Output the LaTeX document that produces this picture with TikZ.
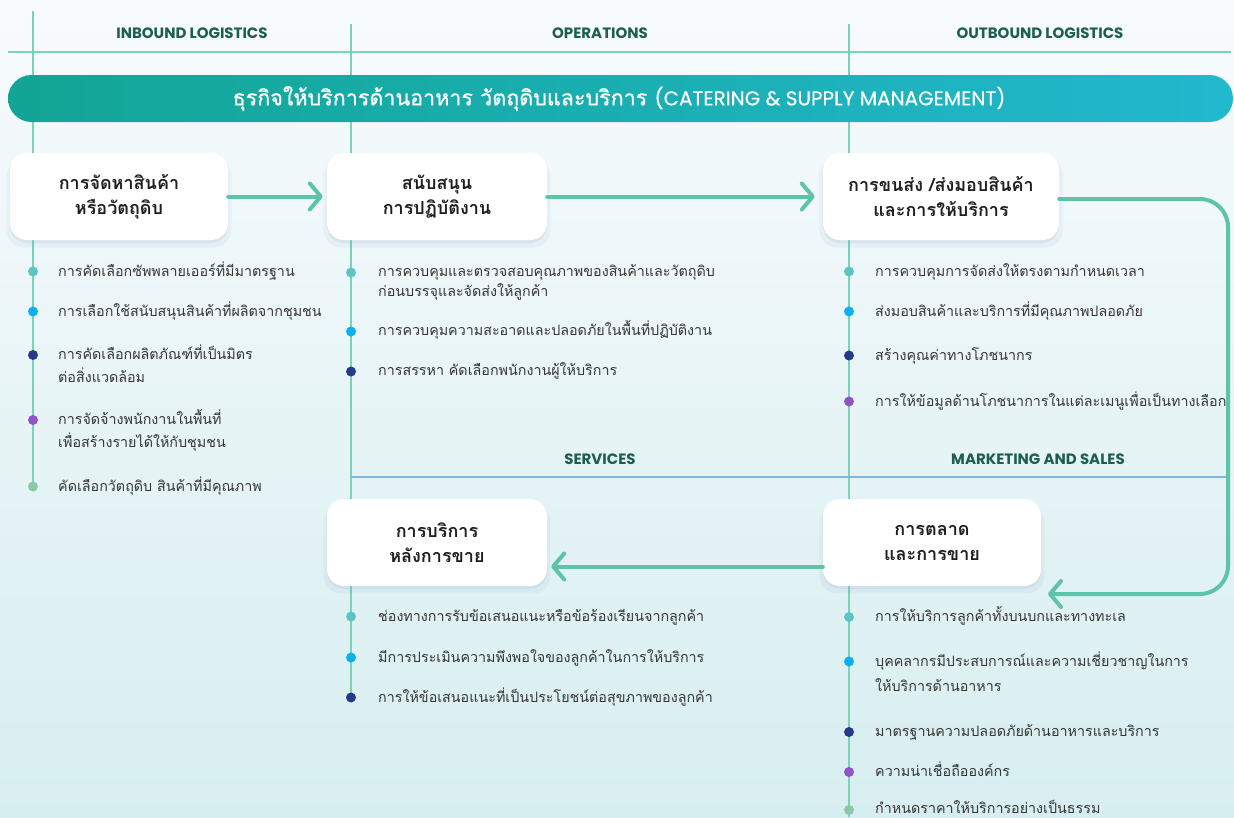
\documentclass[tikz,border=0pt]{standalone}
\usepackage{fontspec}
\usetikzlibrary{arrows.meta,shadows}
\newfontfamily\thai[Script=Thai]{Loma}
\newfontfamily\thaim[Script=Thai,FakeBold=0.8]{Loma}
\newfontfamily\lat{Poppins}
\newfontfamily\latm[FakeBold=0.4]{Poppins}
\definecolor{bgtop}{HTML}{F8FBFD}
\definecolor{bgbot}{HTML}{D7EEF0}
\definecolor{gline}{HTML}{7AD3B5}
\definecolor{bline}{HTML}{82B5DC}
\definecolor{arr}{HTML}{5EC4A8}
\definecolor{hdr}{HTML}{1D5E4F}
\definecolor{txt}{HTML}{363636}
\definecolor{banL}{HTML}{12A595}
\definecolor{banR}{HTML}{22B8CE}
\definecolor{dA}{HTML}{5BC6C4}
\definecolor{dB}{HTML}{0AB0F0}
\definecolor{dC}{HTML}{263A8C}
\definecolor{dD}{HTML}{9452C8}
\definecolor{dE}{HTML}{8CC8A8}
\definecolor{shd}{HTML}{6A88B8}
\begin{document}
\begin{tikzpicture}[x=1pt,y=-1pt,
  hdrlabel/.style={font=\lat\bfseries\fontsize{15}{18}\selectfont, text=hdr, inner sep=0pt},
  gridg/.style={draw=gline, line width=1.4pt},
  gridb/.style={draw=bline, line width=1.4pt},
  box/.style={fill=white, rounded corners=17pt, minimum height=87pt, align=center,
    font=\thai\bfseries\fontsize{18}{25}\selectfont, text=black!88, inner sep=0pt,
    drop shadow={shadow xshift=0pt, shadow yshift=-6pt, opacity=0.07, fill=shd, shadow scale=1.03},
    drop shadow={shadow xshift=0pt, shadow yshift=-3pt, opacity=0.10, fill=shd}},
  conn/.style={draw=arr, line width=4pt, line cap=round, line join=round,
    -{Straight Barb[length=11pt,width=26pt,line cap=round,line join=round]}},
  dot/.style={circle, minimum size=10pt, inner sep=0pt},
  item/.style={anchor=base west, font=\thai\fontsize{14.3}{20}\selectfont, text=txt, inner sep=0pt}
]
\useasboundingbox (0,0) rectangle (1234,817);
\shade[top color=bgtop, bottom color=bgbot] (0,0) rectangle (1234,817);

% grid lines
\draw[gridg] (8,52) -- (1231,52);
\draw[gridg] (33,11) -- (33,486);
\draw[gridg] (351,24) -- (351,697);
\draw[gridg] (849,24) -- (849,817);
\draw[gridb] (351,477) -- (1228,477);

% section labels
\node[hdrlabel] (hIn) at (192,33) {INBOUND LOGISTICS};
\node[hdrlabel] (hOp) at (600,33) {OPERATIONS};
\node[hdrlabel] (hOut) at (1040,33) {OUTBOUND LOGISTICS};
\node[hdrlabel] (hSv) at (600,459) {SERVICES};
\node[hdrlabel] (hMk) at (1038,459) {MARKETING AND SALES};

% banner
\node[rounded corners=23.5pt, left color=banL, right color=banR, minimum width=1225pt, minimum height=47pt, inner sep=0pt] (banner) at (620.5,98.5) {};
\node[text=white, inner sep=0pt] (bannertext) at (619,98.5) {\thaim\fontsize{21.5}{24}\selectfont ธุรกิจให้บริการด้านอาหาร วัตถุดิบและบริการ \latm\fontsize{20}{24}\selectfont (CATERING \& SUPPLY MANAGEMENT)};

% boxes
\node[box, minimum width=218pt] (b1) at (119,196.5) {การจัดหาสินค้า\\หรือวัตถุดิบ};
\node[box, minimum width=220pt] (b2) at (437,196.5) {สนับสนุน\\การปฏิบัติงาน};
\node[box, minimum width=236pt] (b3) at (941,196.5) {การขนส่ง /ส่งมอบสินค้า\\และการให้บริการ};
\node[box, minimum width=220pt] (b4) at (437,542.5) {การบริการ\\หลังการขาย};
\node[box, minimum width=218pt] (b5) at (932,542.5) {การตลาด\\และการขาย};

% connectors
\coordinate (turnA) at (1228,199);
\coordinate (turnB) at (1228,594);
\coordinate (in5) at (1048,594);
\draw[conn, shorten >=4pt] (b1.east) -- (b2.west);
\draw[conn, shorten >=8pt] (b2.east) -- (b3.west);
\draw[conn, rounded corners=28pt] ([yshift=-2.5pt]b3.east) -- (turnA) -- (turnB) -- (in5);
\draw[conn, shorten >=4pt] ([yshift=-24pt]b5.west) -- ([yshift=-24pt]b4.east);

% column 1
\node[dot, fill=dA] (d11) at (33,271.5) {};
\node[item] (t11) at (58,276) {การคัดเลือกซัพพลายเออร์ที่มีมาตรฐาน};
\node[dot, fill=dB] (d12) at (33,311.5) {};
\node[item] (t12) at (58,316) {การเลือกใช้สนับสนุนสินค้าที่ผลิตจากชุมชน};
\node[dot, fill=dC] (d13) at (33,355) {};
\node[item] (t13) at (58,359) {การคัดเลือกผลิตภัณฑ์ที่เป็นมิตร};
\node[item] (t13b) at (58,382) {ต่อสิ่งแวดล้อม};
\node[dot, fill=dD] (d14) at (33,420) {};
\node[item] (t14) at (58,424) {การจัดจ้างพนักงานในพื้นที่};
\node[item] (t14b) at (58,447) {เพื่อสร้างรายได้ให้กับชุมชน};
\node[dot, fill=dE] (d15) at (33,486.5) {};
\node[item] (t15) at (58,491) {คัดเลือกวัตถุดิบ สินค้าที่มีคุณภาพ};

% column 2
\node[dot, fill=dA] (d21) at (351,272.5) {};
\node[item] (t21) at (378,276) {การควบคุมและตรวจสอบคุณภาพของสินค้าและวัตถุดิบ};
\node[item] (t21b) at (378,296) {ก่อนบรรจุและจัดส่งให้ลูกค้า};
\node[dot, fill=dB] (d22) at (351,331.5) {};
\node[item] (t22) at (378,335) {การควบคุมความสะอาดและปลอดภัยในพื้นที่ปฏิบัติงาน};
\node[dot, fill=dC] (d23) at (351,371.5) {};
\node[item] (t23) at (378,375) {การสรรหา คัดเลือกพนักงานผู้ให้บริการ};

% column 3
\node[dot, fill=dA] (d31) at (849,271.5) {};
\node[item] (t31) at (875,276) {การควบคุมการจัดส่งให้ตรงตามกำหนดเวลา};
\node[dot, fill=dB] (d32) at (849,311.5) {};
\node[item] (t32) at (875,316) {ส่งมอบสินค้าและบริการที่มีคุณภาพปลอดภัย};
\node[dot, fill=dC] (d33) at (849,355.5) {};
\node[item] (t33) at (875,360) {สร้างคุณค่าทางโภชนากร};
\node[dot, fill=dD] (d34) at (849,401.5) {};
\node[item] (t34) at (875,406) {การให้ข้อมูลด้านโภชนาการในแต่ละเมนูเพื่อเป็นทางเลือก};

% column 4
\node[dot, fill=dA] (d41) at (351,616.5) {};
\node[item] (t41) at (378,621) {ช่องทางการรับข้อเสนอแนะหรือข้อร้องเรียนจากลูกค้า};
\node[dot, fill=dB] (d42) at (351,657.5) {};
\node[item] (t42) at (378,662) {มีการประเมินความพึงพอใจของลูกค้าในการให้บริการ};
\node[dot, fill=dC] (d43) at (351,697.5) {};
\node[item] (t43) at (378,702) {การให้ข้อเสนอแนะที่เป็นประโยชน์ต่อสุขภาพของลูกค้า};

% column 5
\node[dot, fill=dA] (d51) at (849,617) {};
\node[item] (t51) at (875,621) {การให้บริการลูกค้าทั้งบนบกและทางทะเล};
\node[dot, fill=dB] (d52) at (849,661.5) {};
\node[item] (t52) at (875,666) {บุคคลากรมีประสบการณ์และความเชี่ยวชาญในการ};
\node[item] (t52b) at (875,691) {ให้บริการด้านอาหาร};
\node[dot, fill=dC] (d53) at (849,732) {};
\node[item] (t53) at (875,736) {มาตรฐานความปลอดภัยด้านอาหารและบริการ};
\node[dot, fill=dD] (d54) at (849,772) {};
\node[item] (t54) at (875,776) {ความน่าเชื่อถือองค์กร};
\node[dot, fill=dE] (d55) at (849,810) {};
\node[item] (t55) at (875,813.5) {กำหนดราคาให้บริการอย่างเป็นธรรม};
\end{tikzpicture}
\end{document}
